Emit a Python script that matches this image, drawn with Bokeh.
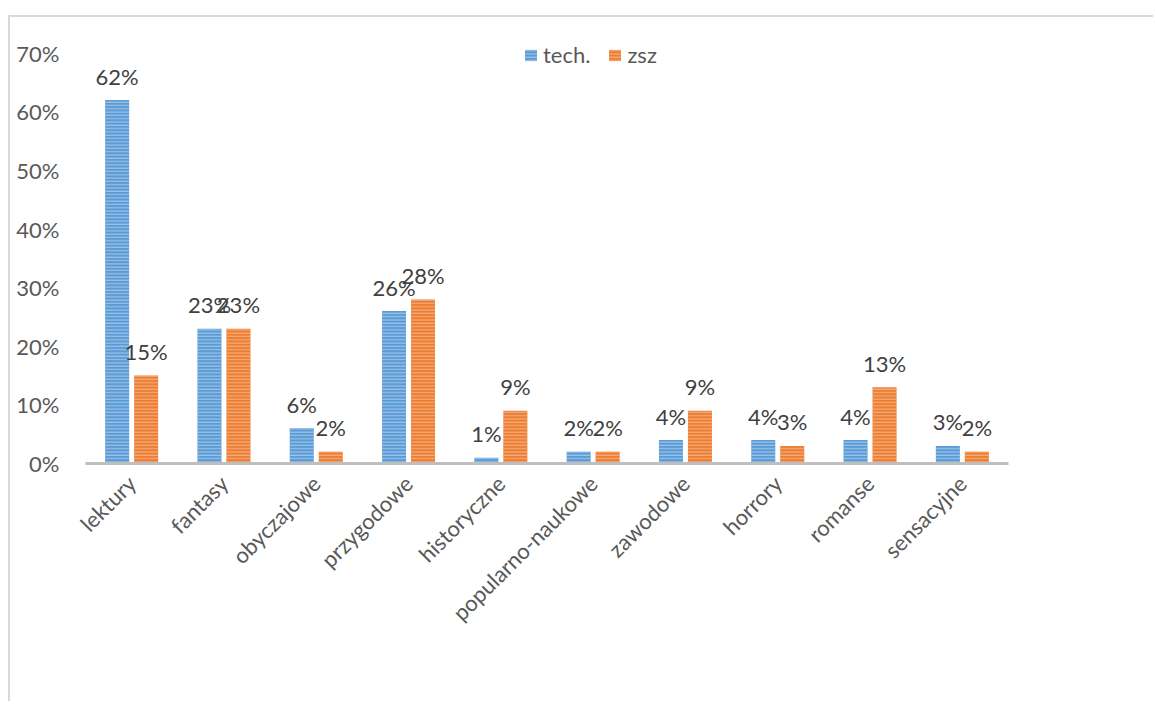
from bokeh.plotting import figure
from bokeh.models import FactorRange, NumeralTickFormatter, FixedTicker, Legend, LegendItem, ColumnDataSource
from bokeh.transform import dodge
from bokeh.core.properties import value
from bokeh.embed import file_html
from bokeh.resources import INLINE
import math

categories = ["lektury", "fantasy", "obyczajowe", "przygodowe", "historyczne",
              "popularno-naukowe", "zawodowe", "horrory", "romanse", "sensacyjne"]
tech = [0.62, 0.23, 0.06, 0.26, 0.01, 0.02, 0.04, 0.04, 0.04, 0.03]
zsz = [0.15, 0.23, 0.02, 0.28, 0.09, 0.02, 0.09, 0.03, 0.13, 0.02]
series_names = ["tech.", "zsz"]
y_ticks = [0, 0.1, 0.2, 0.3, 0.4, 0.5, 0.6, 0.7]

src = ColumnDataSource(dict(
    cat=categories, tech=tech, zsz=zsz,
    tech_lbl=[f"{round(v*100)}%" for v in tech],
    zsz_lbl=[f"{round(v*100)}%" for v in zsz],
))

FONT = "Lato"
FS = "22px"
AXIS_COL = "#595959"
BLUE = "#5b9bd5"
ORANGE = "#ed7d31"

p = figure(x_range=FactorRange(*categories, range_padding=0), y_range=(0, 0.72),
           width=1145, height=686, output_backend="svg", toolbar_location=None,
           min_border_left=75, min_border_right=147, min_border_top=24, min_border_bottom=240)
p.styles = {"margin-top": "15px", "margin-left": "8px",
            "border-top": "2px solid #d9d9d9", "border-left": "2px solid #d9d9d9"}
p.outline_line_color = None
p.xgrid.grid_line_color = None
p.ygrid.grid_line_color = None

off = 0.157
bw = 0.26
r1 = p.vbar(x=dodge("cat", -off, range=p.x_range), top="tech", width=bw, source=src,
            fill_color=BLUE, line_color=None, hatch_pattern="-", hatch_color="#a8cbee",
            hatch_scale=3.3, hatch_weight=1)
r2 = p.vbar(x=dodge("cat", off, range=p.x_range), top="zsz", width=bw, source=src,
            fill_color=ORANGE, line_color=None, hatch_pattern="-", hatch_color="#f6b68c",
            hatch_scale=3.3, hatch_weight=1)

for col, lbl, o in (("tech", "tech_lbl", -off), ("zsz", "zsz_lbl", off)):
    p.text(x=dodge("cat", o, range=p.x_range), y=col, text=lbl, source=src,
           text_font=value(FONT), text_font_size=FS, text_color="#404040",
           text_align="center", text_baseline="alphabetic", y_offset=-24)

p.yaxis.ticker = FixedTicker(ticks=y_ticks)
p.yaxis.formatter = NumeralTickFormatter(format="0%")
p.yaxis.axis_line_color = None
p.yaxis.major_tick_line_color = None
p.yaxis.minor_tick_line_color = None
p.yaxis.major_label_standoff = 20
p.yaxis.major_label_text_font = FONT
p.yaxis.major_label_text_font_size = FS
p.yaxis.major_label_text_color = AXIS_COL

p.xaxis.axis_line_color = "#bfbfbf"
p.xaxis.axis_line_width = 3
p.xaxis.major_tick_line_color = None
p.xaxis.minor_tick_line_color = None
p.xaxis.major_label_orientation = math.pi / 4
p.xaxis.major_label_standoff = 10
p.xaxis.major_label_text_font = FONT
p.xaxis.major_label_text_font_size = FS
p.xaxis.major_label_text_color = AXIS_COL

legend = Legend(items=[LegendItem(label=series_names[0], renderers=[r1]),
                       LegendItem(label=series_names[1], renderers=[r2])],
                orientation="horizontal", location=(438, 395), margin=0, padding=0,
                spacing=17, glyph_width=15, glyph_height=14, label_standoff=5,
                label_text_font=FONT, label_text_font_size=FS, label_text_color=AXIS_COL,
                border_line_color=None, background_fill_alpha=0)
p.add_layout(legend)

open("out.html", "w").write(file_html(p, INLINE))
